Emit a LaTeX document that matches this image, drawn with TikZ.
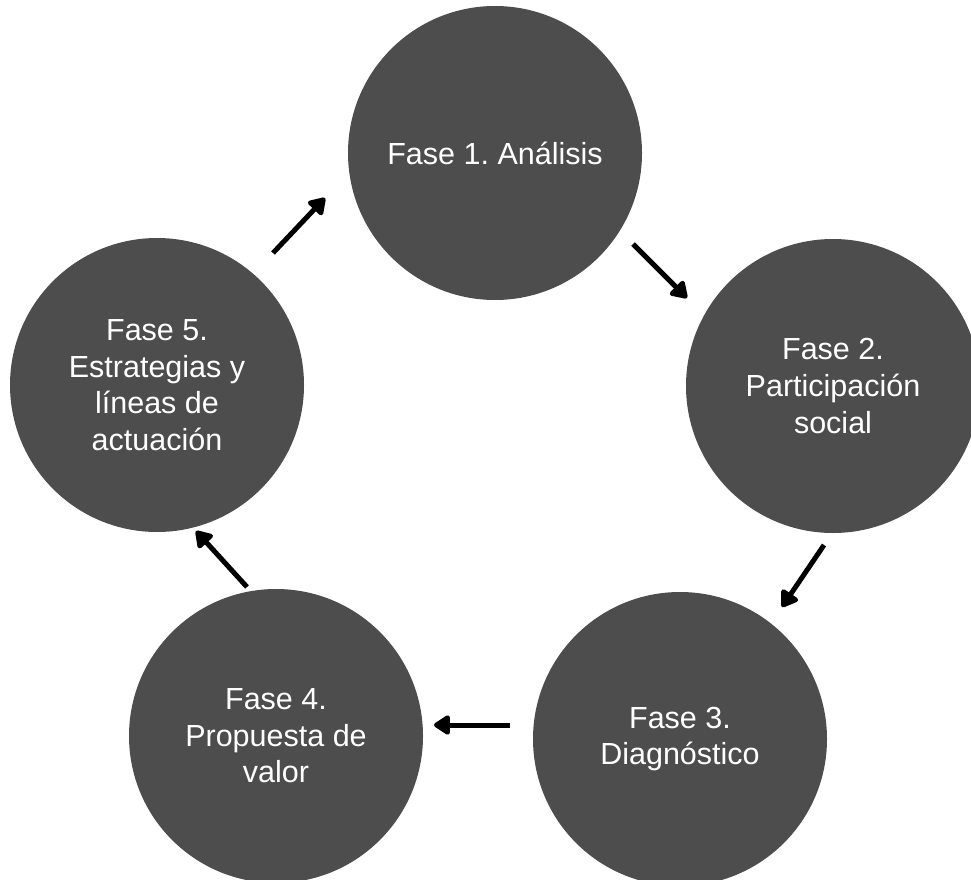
\documentclass[tikz,border=0pt]{standalone}
\usepackage{fontspec}
\setmainfont{Liberation Sans}
\usetikzlibrary{arrows.meta}
\definecolor{fasegray}{HTML}{4D4D4D}
\frenchspacing

\begin{document}
\begin{tikzpicture}[x=1pt,y=-1pt,
    fase/.style={circle, fill=fasegray, text=white, minimum size=294pt, inner sep=0pt,
                 align=center, font=\fontsize{30.5}{36.6}\selectfont},
    flecha/.style={line width=5pt, -{Triangle[width=22pt,length=18pt,round]}}]
                \useasboundingbox (0,0) rectangle (971,880);
                \clip (0,0) rectangle (971,880);
                \node[fase] (f1) at (495,153) {Fase 1. Análisis};
                \node[fase] (f2) at (833,386) {Fase 2.\\Participación\\social};
                \node[fase] (f3) at (680,739) {Fase 3.\\Diagnóstico};
                \node[fase] (f4) at (276,736) {Fase 4.\\Propuesta de\\valor};
                \node[fase] (f5) at (157,385) {Fase 5.\\Estrategias y\\líneas de\\actuación};
                \coordinate (a1) at (633,244);
                \coordinate (b1) at (687,298);
                \coordinate (a2) at (824,545);
                \coordinate (b2) at (782,607);
                \coordinate (a3) at (510,725);
                \coordinate (b3) at (434,725);
                \coordinate (a4) at (247,587);
                \coordinate (b4) at (196,531);
                \coordinate (a5) at (273,253);
                \coordinate (b5) at (325,198);
                \draw[flecha] (a1) -- (b1);
                \draw[flecha] (a2) -- (b2);
                \draw[flecha] (a3) -- (b3);
                \draw[flecha] (a4) -- (b4);
                \draw[flecha] (a5) -- (b5);
            \end{tikzpicture}
\end{document}
